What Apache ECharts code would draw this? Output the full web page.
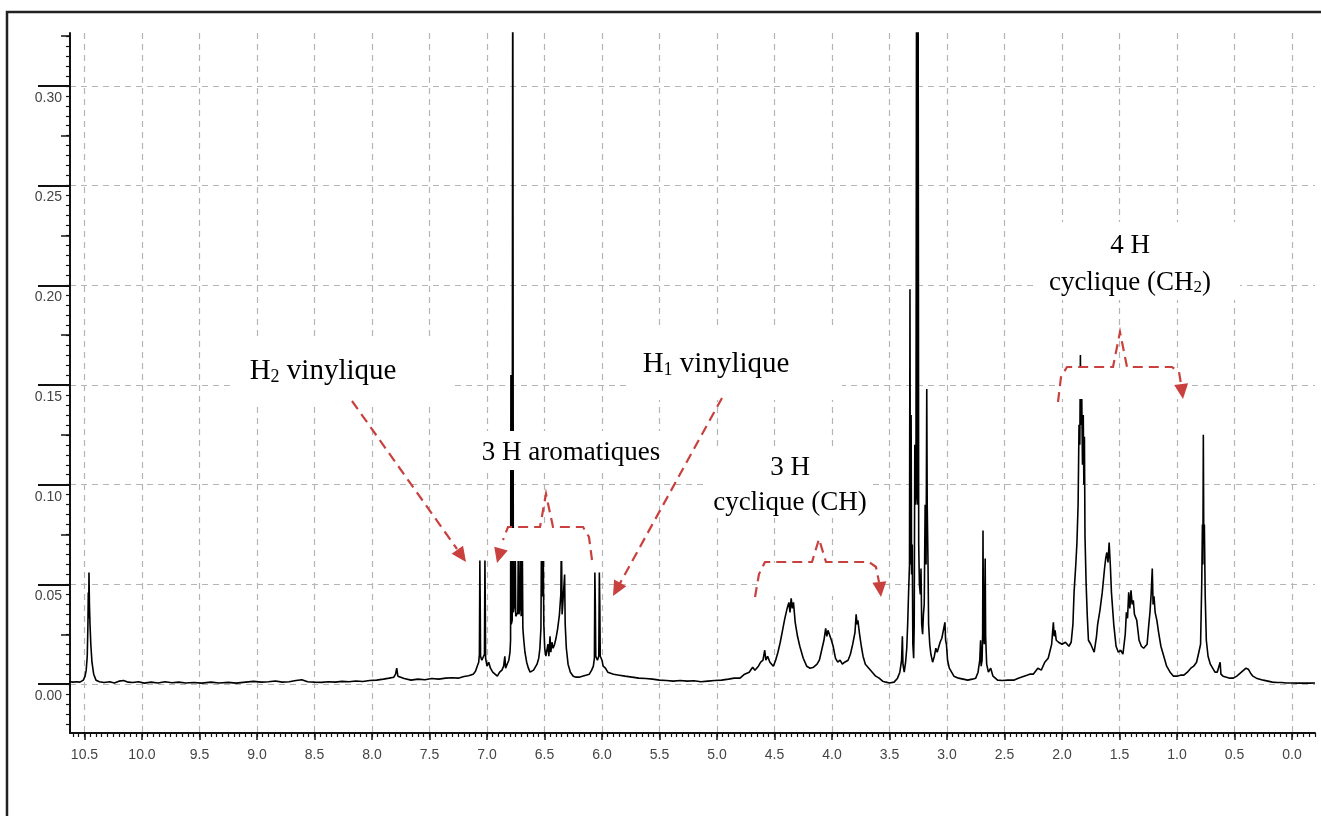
<!DOCTYPE html>
<html><head><meta charset="utf-8">
<script src="https://cdn.jsdelivr.net/npm/echarts@6/dist/echarts.min.js"></script>
<style>html,body{margin:0;padding:0;background:#fff}#c{width:1321px;height:816px}</style>
</head><body><div id="c"></div>
<script>
// ---------- axis extents and tick labels ----------
const X_MIN = -0.2, X_MAX = 10.626;
const Y_MIN = -0.0245, Y_MAX = 0.3265;
const xTicks = [10.5, 10.0, 9.5, 9.0, 8.5, 8.0, 7.5, 7.0, 6.5, 6.0, 5.5, 5.0, 4.5, 4.0, 3.5, 3.0, 2.5, 2.0, 1.5, 1.0, 0.5, 0.0];
const yTicks = [0.00, 0.05, 0.10, 0.15, 0.20, 0.25, 0.30];

// ---------- spectrum: [chemical shift (ppm), intensity] ----------
const aldehyde = [
[10.626,0.0012],[10.60,0.001],[10.57,0.0012],[10.54,0.001],[10.51,0.002],[10.495,0.004],[10.485,0.007],[10.476,0.014],[10.470,0.03],[10.467,0.046],[10.464,0.033],[10.461,0.056],[10.457,0.04],[10.452,0.03],[10.445,0.02],[10.435,0.011],[10.42,0.005],[10.40,0.002],[10.37,0.0012],[10.33,0.0008]
];
const baselineLow = [
[10.28,0.0012],[10.24,0.0006],[10.20,0.0015],[10.16,0.0018],[10.12,0.001],[10.08,0.0008],[10.03,0.0012],[9.98,0.0005],[9.92,0.001],[9.86,0.0006],[9.80,0.0012],[9.74,0.0007],[9.68,0.001],[9.62,0.0006],[9.55,0.0008],[9.48,0.0005],[9.40,0.001],[9.33,0.0006],[9.25,0.0009],[9.18,0.0005],[9.10,0.001],[9.03,0.0014],[8.96,0.001],[8.90,0.0012],[8.84,0.0016],[8.78,0.001],[8.72,0.0012],[8.66,0.0018],[8.61,0.0022],[8.56,0.0012],[8.50,0.001],[8.44,0.0009],[8.38,0.0012],[8.32,0.001],[8.26,0.0014],[8.20,0.0012],[8.14,0.0016],[8.08,0.0013],[8.02,0.0018],[7.96,0.002],[7.90,0.0025],[7.85,0.003],[7.81,0.0035],[7.795,0.005],[7.785,0.008],[7.775,0.004],[7.76,0.003],[7.72,0.0028],[7.66,0.002],[7.60,0.0025],[7.54,0.0022],[7.48,0.0028],[7.42,0.0025],[7.36,0.003],[7.30,0.0032],[7.25,0.003],[7.20,0.0038],[7.16,0.0042]
];
const aromatic = [
[7.15,0.0042],[7.12,0.005],[7.10,0.0065],[7.085,0.009],[7.072,0.011],[7.066,0.015],[7.062,0.062],[7.059,0.041],[7.056,0.014],[7.045,0.012],[7.032,0.011],[7.022,0.015],[7.018,0.062],[7.015,0.041],[7.012,0.013],[7.0,0.009],[6.985,0.011],[6.97,0.008],[6.95,0.006],[6.93,0.005],[6.91,0.004],[6.89,0.006],[6.87,0.007],[6.855,0.009],[6.845,0.014],[6.838,0.008],[6.825,0.01],[6.81,0.012],[6.80,0.016],[6.795,0.022],[6.792,0.155],[6.789,0.03],[6.781,0.032],[6.776,0.4],[6.771,0.036],[6.76,0.04],[6.755,0.075],[6.75,0.034],[6.732,0.036],[6.727,0.075],[6.722,0.035],[6.712,0.04],[6.708,0.075],[6.703,0.034],[6.697,0.033],[6.693,0.07],[6.688,0.028],[6.68,0.022],[6.67,0.016],[6.655,0.011],[6.64,0.008],[6.625,0.006],[6.61,0.006],[6.595,0.007],[6.58,0.008],[6.565,0.01],[6.55,0.013],[6.54,0.018],[6.531,0.028],[6.526,0.075],[6.521,0.044],[6.512,0.075],[6.506,0.03],[6.498,0.018],[6.488,0.014],[6.478,0.013],[6.47,0.02],[6.462,0.014],[6.452,0.024],[6.445,0.016],[6.435,0.021],[6.425,0.018],[6.412,0.02],[6.40,0.023],[6.385,0.028],[6.37,0.035],[6.358,0.045],[6.353,0.075],[6.347,0.035],[6.341,0.04],[6.33,0.04],[6.325,0.055],[6.32,0.03],[6.31,0.018],[6.295,0.01],[6.275,0.006],[6.25,0.004],[6.225,0.0035],[6.20,0.0035],[6.17,0.004],[6.14,0.0045],[6.11,0.005],[6.09,0.007],[6.075,0.009],[6.066,0.013],[6.062,0.056],[6.058,0.04],[6.054,0.014],[6.04,0.012],[6.028,0.014],[6.023,0.056],[6.019,0.04],[6.015,0.014],[6.0,0.012],[5.99,0.009],[5.97,0.008]
];
const baselineMid = [
[5.95,0.006],[5.90,0.005],[5.85,0.0045],[5.80,0.004],[5.74,0.0035],[5.68,0.003],[5.62,0.0028],[5.56,0.0025],[5.50,0.002],[5.44,0.0018],[5.38,0.0015],[5.32,0.0018],[5.26,0.0015],[5.20,0.0017],[5.14,0.0012],[5.08,0.0015],[5.02,0.0018],[4.96,0.002],[4.90,0.0025]
];
const cyclicCH = [
[4.85,0.003],[4.80,0.003],[4.76,0.005],[4.72,0.006],[4.69,0.0085],[4.67,0.007],[4.64,0.009],[4.62,0.011],[4.60,0.012],[4.585,0.017],[4.575,0.012],[4.56,0.014],[4.54,0.011],[4.51,0.009],[4.49,0.012],[4.47,0.016],[4.45,0.021],[4.43,0.027],[4.41,0.033],[4.39,0.038],[4.375,0.041],[4.365,0.036],[4.355,0.043],[4.345,0.038],[4.335,0.041],[4.32,0.031],[4.30,0.024],[4.28,0.019],[4.25,0.013],[4.22,0.009],[4.19,0.008],[4.16,0.0085],[4.13,0.01],[4.11,0.012],[4.09,0.017],[4.07,0.022],[4.055,0.028],[4.045,0.024],[4.035,0.027],[4.02,0.026],[4.005,0.022],[3.99,0.019],[3.97,0.013],[3.95,0.011],[3.93,0.012],[3.91,0.01],[3.89,0.011],[3.86,0.012],[3.84,0.015],[3.82,0.02],[3.80,0.026],[3.79,0.035],[3.782,0.03],[3.775,0.032],[3.76,0.025],[3.745,0.019],[3.73,0.014],[3.71,0.01],[3.68,0.008],[3.65,0.006],[3.62,0.004],[3.59,0.003],[3.56,0.0015],[3.53,0.001]
];
const methoxyRegion = [
[3.50,0.0006],[3.46,0.001],[3.43,0.003],[3.41,0.006],[3.395,0.012],[3.388,0.024],[3.383,0.01],[3.372,0.006],[3.36,0.011],[3.35,0.018],[3.342,0.03],[3.334,0.046],[3.326,0.06],[3.322,0.198],[3.318,0.06],[3.312,0.135],[3.308,0.055],[3.302,0.07],[3.297,0.02],[3.29,0.013],[3.285,0.03],[3.28,0.12],[3.276,0.09],[3.27,0.095],[3.264,0.4],[3.258,0.09],[3.252,0.4],[3.246,0.07],[3.24,0.05],[3.232,0.045],[3.226,0.058],[3.22,0.03],[3.212,0.025],[3.205,0.035],[3.198,0.04],[3.19,0.09],[3.182,0.06],[3.176,0.148],[3.172,0.09],[3.165,0.06],[3.16,0.03],[3.15,0.02],[3.14,0.015],[3.125,0.011],[3.11,0.014],[3.097,0.018],[3.085,0.016],[3.075,0.017],[3.06,0.021],[3.045,0.023],[3.03,0.024],[3.018,0.031],[3.012,0.022],[3.005,0.02],[2.995,0.012],[2.98,0.008],[2.96,0.006],[2.94,0.004],[2.90,0.003],[2.86,0.0025],[2.82,0.002],[2.78,0.0025],[2.75,0.003],[2.73,0.006],[2.715,0.012],[2.708,0.022],[2.703,0.009]
];
const aliphatic = [
[2.695,0.012],[2.69,0.025],[2.687,0.077],[2.683,0.03],[2.676,0.02],[2.668,0.063],[2.664,0.024],[2.655,0.01],[2.64,0.006],[2.62,0.008],[2.60,0.004],[2.56,0.002],[2.52,0.0018],[2.47,0.002],[2.42,0.002],[2.38,0.003],[2.33,0.004],[2.28,0.005],[2.25,0.005],[2.21,0.008],[2.18,0.007],[2.15,0.011],[2.12,0.013],[2.09,0.02],[2.075,0.031],[2.068,0.024],[2.06,0.027],[2.05,0.022],[2.03,0.021],[2.0,0.02],[1.97,0.021],[1.94,0.019],[1.92,0.021],[1.905,0.03],[1.895,0.046],[1.88,0.06],[1.87,0.071],[1.86,0.09],[1.852,0.13],[1.845,0.12],[1.84,0.165],[1.835,0.13],[1.828,0.143],[1.822,0.11],[1.815,0.135],[1.81,0.1],[1.805,0.124],[1.80,0.074],[1.79,0.05],[1.78,0.034],[1.77,0.022],[1.75,0.02],[1.72,0.016],[1.70,0.024],[1.69,0.03],[1.67,0.037],[1.65,0.046],[1.63,0.058],[1.62,0.063],[1.61,0.066],[1.60,0.061],[1.59,0.071],[1.58,0.06],[1.57,0.046],[1.55,0.03],[1.53,0.019],[1.51,0.016],[1.49,0.017],[1.47,0.015],[1.45,0.025],[1.44,0.036],[1.43,0.033],[1.42,0.046],[1.41,0.038],[1.40,0.047],[1.39,0.04],[1.38,0.042],[1.37,0.035],[1.35,0.032],[1.33,0.022],[1.31,0.019],[1.29,0.018],[1.275,0.017],[1.26,0.02],[1.245,0.03],[1.235,0.036],[1.225,0.045],[1.215,0.058],[1.208,0.04],[1.20,0.044],[1.19,0.036],[1.175,0.032],[1.16,0.026],[1.14,0.019],[1.115,0.014],[1.09,0.009],[1.06,0.006],[1.03,0.004],[1.0,0.004],[0.97,0.0045],[0.94,0.0045],[0.91,0.006],[0.88,0.008],[0.855,0.009],[0.83,0.011],[0.81,0.016],[0.795,0.02],[0.785,0.05],[0.779,0.08],[0.775,0.06],[0.771,0.125],[0.767,0.07],[0.762,0.08],[0.755,0.045],[0.745,0.022],[0.73,0.014],[0.71,0.01],[0.695,0.0085],[0.67,0.006],[0.65,0.006],[0.635,0.007],[0.625,0.011],[0.618,0.005],[0.60,0.004],[0.57,0.0035],[0.54,0.003],[0.51,0.003],[0.48,0.004],[0.45,0.0055],[0.42,0.007],[0.40,0.008],[0.39,0.009],[0.38,0.0075],[0.36,0.0055],[0.34,0.004],[0.31,0.003],[0.28,0.0025],[0.25,0.002],[0.21,0.0015],[0.17,0.001],[0.13,0.0008],[0.09,0.0008],[0.05,0.0006],[0.0,0.0006],[-0.05,0.0005],[-0.10,0.0006],[-0.15,0.0005],[-0.20,0.0006]
];

const spectrum = [].concat(aldehyde, baselineLow, aromatic, baselineMid, cyclicCH, methoxyRegion, aliphatic);

// ---------- tick helper lists (styling only) ----------
const xMinor = [], yMinor = [], yMid = [];
for (let i = -4; i <= 212; i++) { const v = +(i * 0.05).toFixed(2); if (v >= X_MIN && v <= X_MAX) xMinor.push(v); }
for (let i = -4; i <= 65; i++) { const v = +(i * 0.005).toFixed(3); if (v >= Y_MIN && v <= Y_MAX) yMinor.push(v); }
for (let i = -1; i <= 13; i++) { const v = +(i * 0.025).toFixed(3); if (v >= Y_MIN && v <= Y_MAX) yMid.push(v); }

const RED = '#c8413e';
const SERIF = '"Liberation Serif", "Times New Roman", serif';
const AX = '#111';

function arrowHead(fx, fy, tx, ty, L, W) {
  L = L || 15; W = W || 7;
  const dx = tx - fx, dy = ty - fy, d = Math.hypot(dx, dy), ux = dx / d, uy = dy / d;
  const bx = tx - ux * L, by = ty - uy * L;
  return { type: 'polygon', silent: true, z: 120,
    shape: { points: [[tx, ty], [bx - uy * W, by + ux * W], [bx + uy * W, by - ux * W]] },
    style: { fill: RED } };
}
function dashed(points) {
  return { type: 'polyline', silent: true, z: 120, shape: { points: points },
    style: { stroke: RED, lineWidth: 2.2, lineDash: [10, 6], fill: null } };
}
function mask(x, y, w, h) {
  return { type: 'rect', silent: true, z: 110, shape: { x: x, y: y, width: w, height: h }, style: { fill: '#fff' } };
}
function makeRich(size) {
  const sub = Math.round(size * 0.63);
  return {
    m: { fontSize: size, fontFamily: SERIF, fill: '#000', color: '#000', lineHeight: size + 3, verticalAlign: 'bottom' },
    s: { fontSize: sub, fontFamily: SERIF, fill: '#000', color: '#000', lineHeight: sub - 5, verticalAlign: 'bottom' }
  };
}
function label(x, y, text, size) {
  size = size || 27;
  return { type: 'text', silent: true, z: 130, x: x, y: y,
    style: { text: text, rich: makeRich(size), align: 'center', verticalAlign: 'middle',
             font: size + 'px ' + SERIF, fill: '#000' } };
}

const graphics = [
  { type: 'rect', silent: true, z: 0, shape: { x: 7, y: 12, width: 1340, height: 900 },
    style: { fill: null, stroke: '#222', lineWidth: 2.5 } },
  // white boxes behind labels / brackets
  mask(233, 336, 220, 69),
  mask(628, 330, 214, 70),
  mask(468, 431, 200, 39),
  mask(708, 447, 164, 71),
  mask(1035, 222, 205, 78),
  mask(497, 528, 94, 33),
  mask(757, 563, 123, 33),
  mask(1060, 368, 120, 31),
  // labels
  label(323, 370, '{m|H}{s|2}{m| vinylique}', 29),
  label(716, 363, '{m|H}{s|1}{m| vinylique}', 29),
  label(571, 451, '{m|3 H aromatiques}'),
  label(790, 466, '{m|3 H}'),
  label(790, 501, '{m|cyclique (CH)}'),
  label(1130, 244, '{m|4 H}'),
  label(1130, 281, '{m|cyclique (CH}{s|2}{m|)}'),
  // arrows
  dashed([[352, 401], [457, 549]]), arrowHead(352, 401, 466, 562),
  dashed([[722, 398], [619, 585]]), arrowHead(722, 398, 613, 596),
  dashed([[592, 560], [589, 537], [583, 527], [553, 527], [546, 494], [540, 527], [508, 527], [503, 540]]),
  arrowHead(507, 527, 497, 563),
  dashed([[755, 597], [759, 574], [765, 562], [812, 562], [819, 539], [826, 562], [869, 562], [876, 567], [879, 582]]),
  arrowHead(878, 570, 881, 597),
  dashed([[1058, 402], [1061, 377], [1067, 367], [1113, 367], [1120, 332], [1127, 367], [1172, 367], [1179, 372], [1181, 384]]),
  arrowHead(1180, 375, 1183, 399)
];

const hiddenAxisBits = { axisLabel: { show: false }, splitLine: { show: false }, minorTick: { show: false } };

const option = {
  animation: false,
  backgroundColor: '#fff',
  grid: { left: 70, right: 6, top: 33, bottom: 83, containLabel: false, outerBoundsMode: 'none' },
  xAxis: [
    { type: 'value', inverse: true, min: X_MIN, max: X_MAX, splitNumber: 21, position: 'bottom',
      axisLine: { show: true, onZero: false, lineStyle: { color: AX, width: 2 } },
      axisTick: { show: true, inside: false, length: 7, customValues: xTicks, lineStyle: { color: AX, width: 1.5 } },
      axisLabel: { show: true, customValues: xTicks, formatter: v => (+v).toFixed(1), margin: 15,
                   fontFamily: '"Liberation Sans", Arial, sans-serif', fontSize: 14, color: '#444' },
      splitLine: { show: true, lineStyle: { color: '#b5b5b5', width: 1.2, type: [6, 5] } },
      minorTick: { show: false } },
    Object.assign({ type: 'value', inverse: true, min: X_MIN, max: X_MAX, position: 'bottom',
      axisLine: { show: false, onZero: false },
      axisTick: { show: true, inside: false, length: 4, customValues: xMinor, lineStyle: { color: AX, width: 1.2 } } }, hiddenAxisBits)
  ],
  yAxis: [
    { type: 'value', min: Y_MIN, max: Y_MAX, splitNumber: 7, position: 'left',
      axisLine: { show: true, onZero: false, lineStyle: { color: AX, width: 2 } },
      axisTick: { show: true, inside: false, length: 32, customValues: yTicks, lineStyle: { color: AX, width: 2 } },
      axisLabel: { show: true, customValues: yTicks, formatter: v => (+v).toFixed(2), margin: 8,
                   verticalAlign: 'top', padding: [5, 0, 0, 0],
                   fontFamily: '"Liberation Sans", Arial, sans-serif', fontSize: 14, color: '#444' },
      splitLine: { show: true, lineStyle: { color: '#b5b5b5', width: 1.2, type: [6, 5] } },
      minorTick: { show: false } },
    Object.assign({ type: 'value', min: Y_MIN, max: Y_MAX, position: 'left', offset: 0,
      axisLine: { show: false, onZero: false },
      axisTick: { show: true, inside: false, length: 4, customValues: yMinor, lineStyle: { color: AX, width: 1.2 } } }, hiddenAxisBits),
    Object.assign({ type: 'value', min: Y_MIN, max: Y_MAX, position: 'left', offset: 0,
      axisLine: { show: false, onZero: false },
      axisTick: { show: true, inside: false, length: 9, customValues: yMid, lineStyle: { color: AX, width: 1.5 } } }, hiddenAxisBits)
  ],
  series: [{
    type: 'line', xAxisIndex: 0, yAxisIndex: 0, data: spectrum,
    showSymbol: false, symbol: 'none', clip: true, silent: true, z: 5,
    lineStyle: { color: '#000', width: 1.6 }
  }],
  graphic: graphics
};

const chart = echarts.init(document.getElementById('c'), null, { renderer: 'canvas' });
chart.setOption(option);
</script>
</body></html>
